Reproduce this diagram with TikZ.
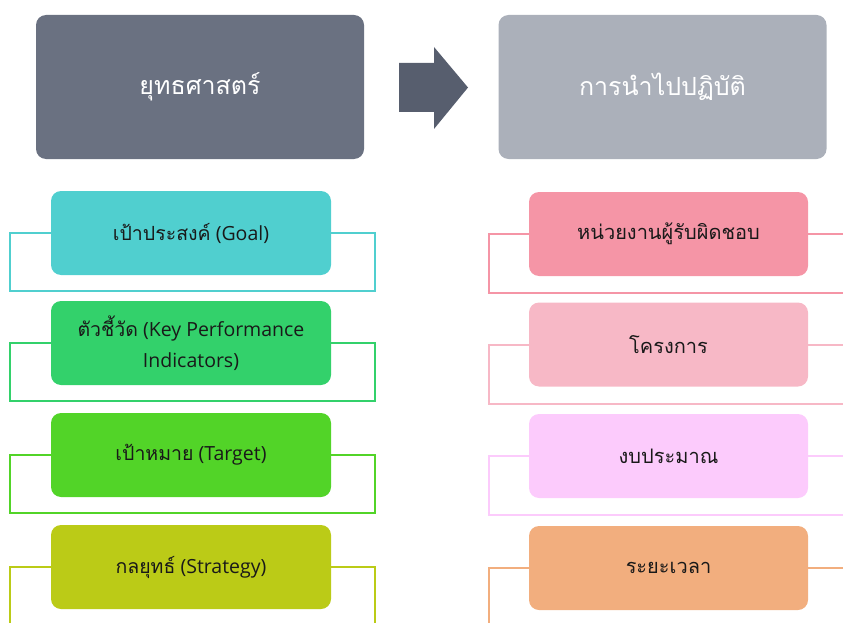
\documentclass[tikz,border=0pt]{standalone}
\usepackage{fontspec}
\setmainfont{Open Sans}
\newfontfamily\thaifont[Script=Thai]{Loma}
\usetikzlibrary{calc}

\definecolor{hdrA}{HTML}{6A7181}
\definecolor{hdrB}{HTML}{ABB0BA}
\definecolor{arrowgray}{HTML}{575E6E}
\definecolor{cGoal}{HTML}{50CFCF}
\definecolor{cKpi}{HTML}{33D16B}
\definecolor{cTarget}{HTML}{52D428}
\definecolor{cStrat}{HTML}{BBCB17}
\definecolor{cUnit}{HTML}{F595A6}
\definecolor{cProj}{HTML}{F7B8C6}
\definecolor{cBudget}{HTML}{FCCBFC}
\definecolor{cTime}{HTML}{F2AE7E}

\newcommand{\thtxt}[1]{{\thaifont #1}}

\begin{document}
\begin{tikzpicture}[x=1pt,y=-1pt,
  header/.style={rounded corners=10pt, minimum width=328pt, minimum height=144pt,
    inner sep=0pt, text=white, font=\thaifont\fontsize{25}{30}\selectfont},
  item/.style={rounded corners=10pt, minimum width=280pt, minimum height=84pt,
    inner sep=0pt, text=black!90, align=center, font=\fontsize{19.5}{31}\selectfont},
  thaiitem/.style={item, minimum width=279pt, font=\thaifont\fontsize{20}{30}\selectfont},
  loopline/.style={line width=2pt}]
\useasboundingbox (0,0) rectangle (843,623);
\clip (0,0) rectangle (843,623);

% column headers
\node[header, fill=hdrA] (strat) at (200,87) {ยุทธศาสตร์};
\node[header, fill=hdrB] (impl) at (662.5,87) {การนำไปปฏิบัติ};

% block arrow between the headers
\fill[arrowgray] (399,63) -- (434,63) -- (434,47) -- (468,87.5)
  -- (434,129) -- (434,112) -- (399,112) -- cycle;

% left column
\node[item, fill=cGoal]   (goal)   at (191,233) {\thtxt{เป้าประสงค์} (Goal)};
\node[item, fill=cKpi]    (kpi)    at (191,343) {\thtxt{ตัวชี้วัด} (Key Performance\\Indicators)};
\node[item, fill=cTarget] (target) at (191,455) {\thtxt{เป้าหมาย} (Target)};
\node[item, fill=cStrat]  (plan)   at (191,567) {\thtxt{กลยุทธ์} (Strategy)};

% right column
\node[thaiitem, fill=cUnit]   (unit)   at (668.5,234)   {หน่วยงานผู้รับผิดชอบ};
\node[thaiitem, fill=cProj]   (proj)   at (668.5,344.5) {โครงการ};
\node[thaiitem, fill=cBudget] (budget) at (668.5,456)   {งบประมาณ};
\node[thaiitem, fill=cTime]   (time)   at (668.5,568)   {ระยะเวลา};

% bracket loops under each box
\foreach \n/\c in {goal/cGoal, kpi/cKpi, target/cTarget, plan/cStrat}{
  \draw[loopline, \c] (\n.west) -- ++(-41,0) -- ++(0,58) -- ++(365,0) -- ++(0,-58) -- (\n.east);
}
\foreach \n/\c in {unit/cUnit, proj/cProj, budget/cBudget, time/cTime}{
  \draw[loopline, \c] (\n.west) -- ++(-40,0) -- ++(0,59) -- ++(400,0) -- ++(0,-59) -- (\n.east);
}
\end{tikzpicture}
\end{document}
